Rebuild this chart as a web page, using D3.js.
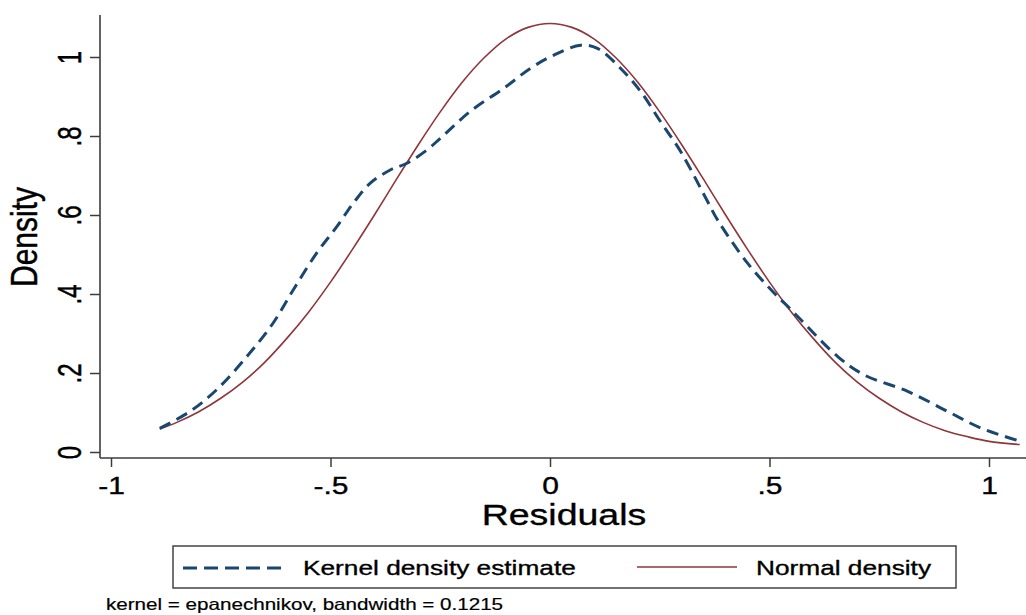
<!DOCTYPE html>
<html>
<head>
<meta charset="utf-8">
<script src="https://cdn.jsdelivr.net/npm/d3@7"></script>
<style>
  html, body { margin: 0; padding: 0; background: #ffffff; }
  svg { display: block; font-family: "Liberation Sans", Arial, Helvetica, sans-serif; }
  svg text { stroke: #000; stroke-width: 0.35px; }
</style>
</head>
<body>
<svg id="chart" width="1026" height="615"></svg>
<script>
// Kernel density estimate of the residuals (x, density)
const kdeX = [-0.889, -0.821, -0.760, -0.691, -0.631, -0.585, -0.532, -0.486, -0.448, -0.410,
              -0.364, -0.326, -0.280, -0.250, -0.182, -0.105, -0.045, 0.009, 0.070, 0.108,
              0.161, 0.207, 0.252, 0.298, 0.359, 0.382, 0.450, 0.511, 0.542, 0.572,
              0.656, 0.716, 0.816, 0.907, 0.983, 1.063];
const kdeY = [0.060, 0.102, 0.157, 0.241, 0.326, 0.410, 0.503, 0.570, 0.630, 0.680,
              0.714, 0.731, 0.765, 0.794, 0.862, 0.921, 0.971, 1.005, 1.030, 1.022,
              0.971, 0.912, 0.836, 0.760, 0.634, 0.587, 0.478, 0.402, 0.368, 0.334,
              0.241, 0.195, 0.153, 0.102, 0.060, 0.030];

// Normal density overlay (x, density)
const normX = [-0.889, -0.85, -0.80, -0.75, -0.70, -0.65, -0.60, -0.55, -0.50, -0.45,
               -0.40, -0.35, -0.30, -0.25, -0.20, -0.15, -0.10, -0.05, 0.00, 0.05,
               0.10, 0.15, 0.20, 0.25, 0.30, 0.35, 0.40, 0.45, 0.50, 0.55,
               0.60, 0.65, 0.70, 0.75, 0.80, 0.85, 0.90, 0.95, 1.00, 1.07];
const normY = [0.058, 0.075, 0.102, 0.136, 0.177, 0.227, 0.287, 0.354, 0.430, 0.513,
               0.600, 0.690, 0.778, 0.861, 0.936, 0.998, 1.046, 1.075, 1.085, 1.075,
               1.046, 0.998, 0.936, 0.861, 0.778, 0.690, 0.600, 0.513, 0.430, 0.354,
               0.287, 0.227, 0.177, 0.136, 0.102, 0.075, 0.054, 0.039, 0.027, 0.019];

const xTicks = [-1, -0.5, 0, 0.5, 1];
const xTickLabels = ["-1", "-.5", "0", ".5", "1"];
const yTicks = [0, 0.2, 0.4, 0.6, 0.8, 1];
const yTickLabels = ["0", ".2", ".4", ".6", ".8", "1"];

const seriesNames = ["Kernel density estimate", "Normal density"];
const xTitle = "Residuals";
const yTitle = "Density";
const note = "kernel = epanechnikov, bandwidth = 0.1215";

const navy = "#1a476f", maroon = "#90353b", axisCol = "#3c3c3c";
const stretch = 1.25;   // wide lettering

const svg = d3.select("#chart");

const x = d3.scaleLinear().domain([-1, 1]).range([111, 989]);
const y = d3.scaleLinear().domain([0, 1]).range([452, 57]);

const axisX0 = 100, axisX1 = 1026, axisYTop = 15, axisYBase = 458;

// x axis
const gx = svg.append("g").attr("transform", `translate(0,${axisYBase})`)
  .call(d3.axisBottom(x).tickValues(xTicks).tickSize(9).tickFormat((d, i) => xTickLabels[i]));
gx.select(".domain").remove();
gx.selectAll(".tick line").attr("stroke", axisCol).attr("stroke-width", 1.5);
gx.selectAll(".tick text").each(function () {
  const t = d3.select(this);
  t.attr("y", null).attr("dy", null)
   .attr("transform", `translate(0,36) scale(${stretch},1)`)
   .attr("font-size", 24).attr("fill", "#000").attr("text-anchor", "middle");
});
svg.append("line").attr("x1", axisX0).attr("x2", axisX1)
  .attr("y1", axisYBase).attr("y2", axisYBase)
  .attr("stroke", axisCol).attr("stroke-width", 1.6);

// y axis
const gy = svg.append("g").attr("transform", `translate(${axisX0},0)`)
  .call(d3.axisLeft(y).tickValues(yTicks).tickSize(10).tickFormat((d, i) => yTickLabels[i]));
gy.select(".domain").remove();
gy.selectAll(".tick line").attr("stroke", axisCol).attr("stroke-width", 1.5);
gy.selectAll(".tick text").each(function () {
  const t = d3.select(this);
  t.attr("x", null).attr("dy", null)
   .attr("transform", `translate(-19,0) rotate(-90) scale(1,1.4)`)
   .attr("font-size", 24).attr("fill", "#000").attr("text-anchor", "middle");
});
svg.append("line").attr("x1", axisX0).attr("x2", axisX0)
  .attr("y1", axisYTop).attr("y2", axisYBase)
  .attr("stroke", axisCol).attr("stroke-width", 1.6);

// axis titles
svg.append("text").text(xTitle)
  .attr("transform", `translate(564,525) scale(${stretch},1)`)
  .attr("text-anchor", "middle").attr("font-size", 30).attr("fill", "#000");
svg.append("text").text(yTitle)
  .attr("transform", `translate(37,237) rotate(-90) scale(1,${stretch})`)
  .attr("text-anchor", "middle").attr("font-size", 30).attr("fill", "#000");

// curves
const kde = kdeX.map((d, i) => [d, kdeY[i]]);
const norm = normX.map((d, i) => [d, normY[i]]);
const line = d3.line().x(d => x(d[0])).y(d => y(d[1])).curve(d3.curveCatmullRom.alpha(0.5));

svg.append("path").datum(norm).attr("d", line)
  .attr("fill", "none").attr("stroke", maroon).attr("stroke-width", 1.6);
svg.append("path").datum(kde).attr("d", line)
  .attr("fill", "none").attr("stroke", navy).attr("stroke-width", 3)
  .attr("stroke-dasharray", "12,7");

// legend
const lg = svg.append("g");
lg.append("rect").attr("x", 173).attr("y", 546).attr("width", 783).attr("height", 42)
  .attr("fill", "#fff").attr("stroke", "#444").attr("stroke-width", 1.5);
lg.append("line").attr("x1", 183).attr("x2", 286).attr("y1", 568).attr("y2", 568)
  .attr("stroke", navy).attr("stroke-width", 3).attr("stroke-dasharray", "14,7");
lg.append("text").text(seriesNames[0])
  .attr("transform", `translate(303,575) scale(${stretch},1)`)
  .attr("font-size", 21).attr("fill", "#000");
lg.append("line").attr("x1", 637).attr("x2", 737).attr("y1", 567).attr("y2", 567)
  .attr("stroke", maroon).attr("stroke-width", 1.6);
lg.append("text").text(seriesNames[1])
  .attr("transform", `translate(756,575) scale(${stretch},1)`)
  .attr("font-size", 21).attr("fill", "#000");

// note under the legend
svg.append("text").text(note)
  .attr("transform", `translate(106,610) scale(${stretch},1)`)
  .attr("font-size", 16.5).attr("fill", "#000").style("stroke-width", "0.2px");
</script>
</body>
</html>
